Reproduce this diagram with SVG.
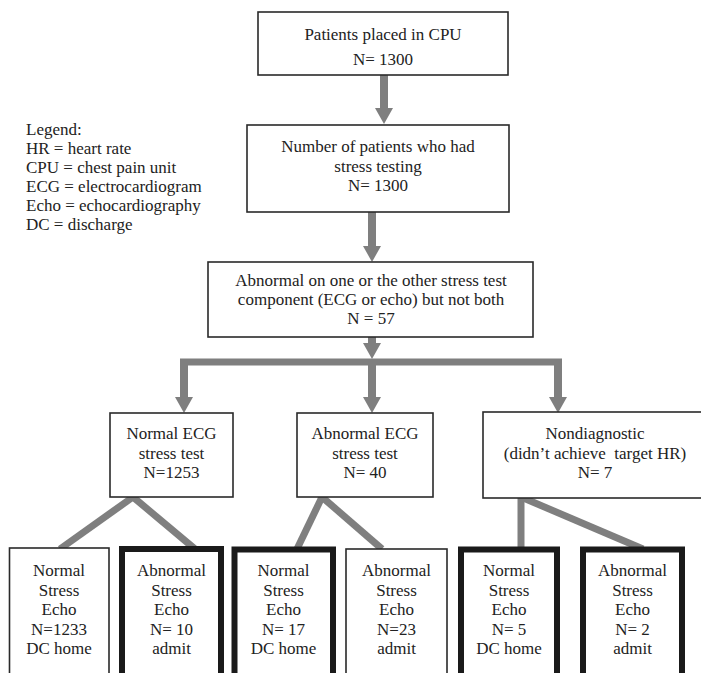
<svg xmlns="http://www.w3.org/2000/svg" width="701" height="673" viewBox="0 0 701 673">
<style>
  text { font-family: "Liberation Serif", "Times New Roman", serif; font-size: 17px; fill: #222; }
  .c { text-anchor: middle; }
  .pre { white-space: pre; }
  .box { fill: #fff; stroke: #2a2a2a; stroke-width: 1.6; }
  .thick { fill: #fff; stroke: #1a1a1a; stroke-width: 6; }
  .arrow { stroke: #7f7f7f; stroke-width: 8; fill: none; marker-end: url(#ah); }
  .bar { stroke: #7f7f7f; stroke-width: 7; fill: none; }
  .diag { stroke: #7f7f7f; stroke-width: 7; fill: none; stroke-linecap: butt; }
</style>
<defs>
  <marker id="ah" viewBox="0 0 16 18" markerUnits="userSpaceOnUse" markerWidth="16" markerHeight="18" refX="3" refY="9" orient="auto">
    <path d="M0,0 L16,9 L0,18 z" fill="#7f7f7f"/>
  </marker>
</defs>

<g id="legend">
  <text x="26" y="135">Legend:</text>
  <text x="26" y="154">HR = heart rate</text>
  <text x="26" y="173">CPU = chest pain unit</text>
  <text x="26" y="192">ECG = electrocardiogram</text>
  <text x="26" y="211">Echo = echocardiography</text>
  <text x="26" y="230">DC = discharge</text>
</g>

<g id="connectors">
  <line class="arrow" x1="384" y1="75" x2="384" y2="111"/>
  <line class="arrow" x1="372" y1="212" x2="372" y2="249"/>
  <line class="arrow" x1="372" y1="337" x2="372" y2="346"/>
  <line class="bar" x1="180" y1="362" x2="562" y2="362"/>
  <line class="arrow" x1="184" y1="359" x2="184" y2="400"/>
  <line class="arrow" x1="372" y1="359" x2="372" y2="400"/>
  <line class="arrow" x1="558" y1="359" x2="558" y2="400"/>
  <line class="diag" x1="133" y1="497" x2="60" y2="549"/>
  <line class="diag" x1="133" y1="497" x2="195" y2="549"/>
  <line class="diag" x1="322" y1="497" x2="297" y2="549"/>
  <line class="diag" x1="322" y1="497" x2="382" y2="549"/>
  <line class="diag" x1="521" y1="497" x2="521" y2="549"/>
  <line class="diag" x1="521" y1="497" x2="643" y2="549"/>
</g>

<g id="n_cpu">
  <rect class="box" x="258" y="12" width="250" height="63"/>
  <text class="c" x="383" y="40">Patients placed in CPU</text>
  <text class="c" x="383" y="65">N= 1300</text>
</g>

<g id="n_stress">
  <rect class="box" x="247" y="125" width="262" height="87"/>
  <text class="c" x="378" y="152">Number of patients who had</text>
  <text class="c" x="378" y="172">stress testing</text>
  <text class="c" x="378" y="191">N= 1300</text>
</g>

<g id="n_abnormal">
  <rect class="box" x="208" y="262" width="325" height="75"/>
  <text class="c" x="371" y="286">Abnormal on one or the other stress test</text>
  <text class="c" x="371" y="305">component (ECG or echo) but not both</text>
  <text class="c" x="371" y="324">N = 57</text>
</g>

<g id="n_normal_ecg">
  <rect class="box" x="110" y="413" width="123" height="84"/>
  <text class="c" x="171.5" y="439">Normal ECG</text>
  <text class="c" x="171.5" y="459">stress test</text>
  <text class="c" x="171.5" y="478">N=1253</text>
</g>

<g id="n_abnormal_ecg">
  <rect class="box" x="297" y="413" width="136" height="84"/>
  <text class="c" x="365" y="439">Abnormal ECG</text>
  <text class="c" x="365" y="459">stress test</text>
  <text class="c" x="365" y="478">N= 40</text>
</g>

<g id="n_nondiag">
  <rect class="box" x="483" y="412" width="226" height="86"/>
  <text class="c" x="595" y="439">Nondiagnostic</text>
  <text class="c pre" x="595" y="458.5">(didn’t achieve  target HR)</text>
  <text class="c" x="595" y="478">N= 7</text>
</g>

<g id="n_b1">
  <rect class="box" x="9.5" y="548" width="99.5" height="135"/>
  <text class="c" x="59" y="576">Normal</text>
  <text class="c" x="59" y="595.5">Stress</text>
  <text class="c" x="59" y="615">Echo</text>
  <text class="c" x="59" y="634.5">N=1233</text>
  <text class="c" x="59" y="654">DC home</text>
</g>

<g id="n_b2">
  <rect class="thick" x="122" y="549" width="99" height="135"/>
  <text class="c" x="171.5" y="576">Abnormal</text>
  <text class="c" x="171.5" y="595.5">Stress</text>
  <text class="c" x="171.5" y="615">Echo</text>
  <text class="c" x="171.5" y="634.5">N= 10</text>
  <text class="c" x="171.5" y="654">admit</text>
</g>

<g id="n_b3">
  <rect class="thick" x="234.5" y="549.5" width="98.5" height="135"/>
  <text class="c" x="283.5" y="576">Normal</text>
  <text class="c" x="283.5" y="595.5">Stress</text>
  <text class="c" x="283.5" y="615">Echo</text>
  <text class="c" x="283.5" y="634.5">N= 17</text>
  <text class="c" x="283.5" y="654">DC home</text>
</g>

<g id="n_b4">
  <rect class="box" x="346" y="549" width="101" height="135"/>
  <text class="c" x="396.5" y="576">Abnormal</text>
  <text class="c" x="396.5" y="595.5">Stress</text>
  <text class="c" x="396.5" y="615">Echo</text>
  <text class="c" x="396.5" y="634.5">N=23</text>
  <text class="c" x="396.5" y="654">admit</text>
</g>

<g id="n_b5">
  <rect class="thick" x="461" y="549.5" width="96" height="135"/>
  <text class="c" x="509" y="576">Normal</text>
  <text class="c" x="509" y="595.5">Stress</text>
  <text class="c" x="509" y="615">Echo</text>
  <text class="c" x="509" y="634.5">N= 5</text>
  <text class="c" x="509" y="654">DC home</text>
</g>

<g id="n_b6">
  <rect class="thick" x="583" y="549.5" width="99" height="135"/>
  <text class="c" x="632.5" y="576">Abnormal</text>
  <text class="c" x="632.5" y="595.5">Stress</text>
  <text class="c" x="632.5" y="615">Echo</text>
  <text class="c" x="632.5" y="634.5">N= 2</text>
  <text class="c" x="632.5" y="654">admit</text>
</g>
</svg>
